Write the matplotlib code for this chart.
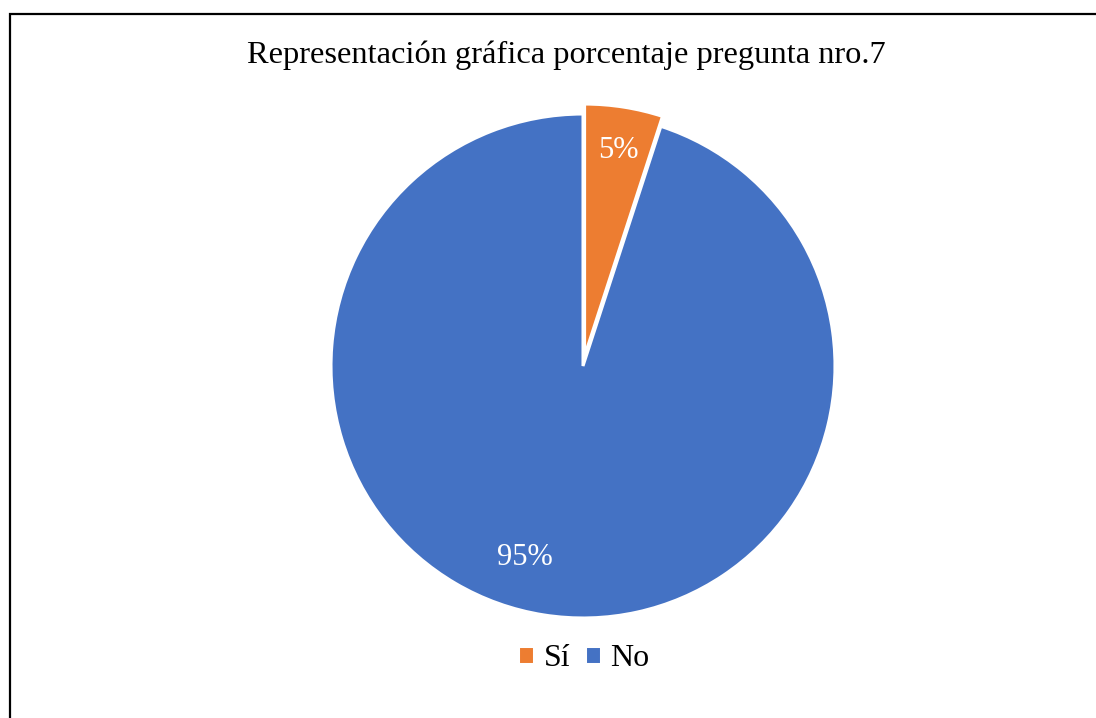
import matplotlib

matplotlib.use("Agg")

from matplotlib import pyplot as plt
from matplotlib.patches import Rectangle

labels = ["Sí", "No"]
values = [5, 95]
colors = ["#ED7D31", "#4472C4"]
explode = [0.04, 0.0]
label_pos = [(0.14, 0.855), (-0.23, -0.76)]

plt.rcParams["font.family"] = ["Liberation Serif", "DejaVu Serif"]

fig = plt.figure(figsize=(10.96, 7.18), dpi=100)
W, H = 1096, 718
r_px = 252
cx, cy = 583, 366
lim = 1.25
half = r_px * lim
ax = fig.add_axes([(cx - half) / W, (H - cy - half) / H, 2 * half / W, 2 * half / H])

wedges, texts, autotexts = ax.pie(
    values,
    colors=colors,
    explode=explode,
    startangle=90,
    counterclock=False,
    autopct="%1.0f%%",
    wedgeprops={"edgecolor": "white", "linewidth": 2.2},
    textprops={"color": "white", "fontsize": 22},
)
for t, pos in zip(autotexts, label_pos):
    t.set_position(pos)
ax.set_xlim(-lim, lim)
ax.set_ylim(-lim, lim)
ax.set_aspect("equal")
ax.axis("off")

fig.text(566 / W, 1 - 55 / H, "Representación gráfica porcentaje pregunta nro.7",
         ha="center", va="center", fontsize=23.4)

fig.legend(wedges, labels, loc="center", bbox_to_anchor=(584 / W, 1 - 659 / H),
           ncol=2, frameon=False, fontsize=23, handlelength=0.5, handleheight=0.5,
           handletextpad=0.3, columnspacing=0.45)

fig.patches.append(Rectangle((10 / W, -0.2), 1.2, 1.2 - 14 / H, transform=fig.transFigure,
                             fill=False, edgecolor="black", linewidth=1.6))

fig.savefig("out.png", dpi=100)
